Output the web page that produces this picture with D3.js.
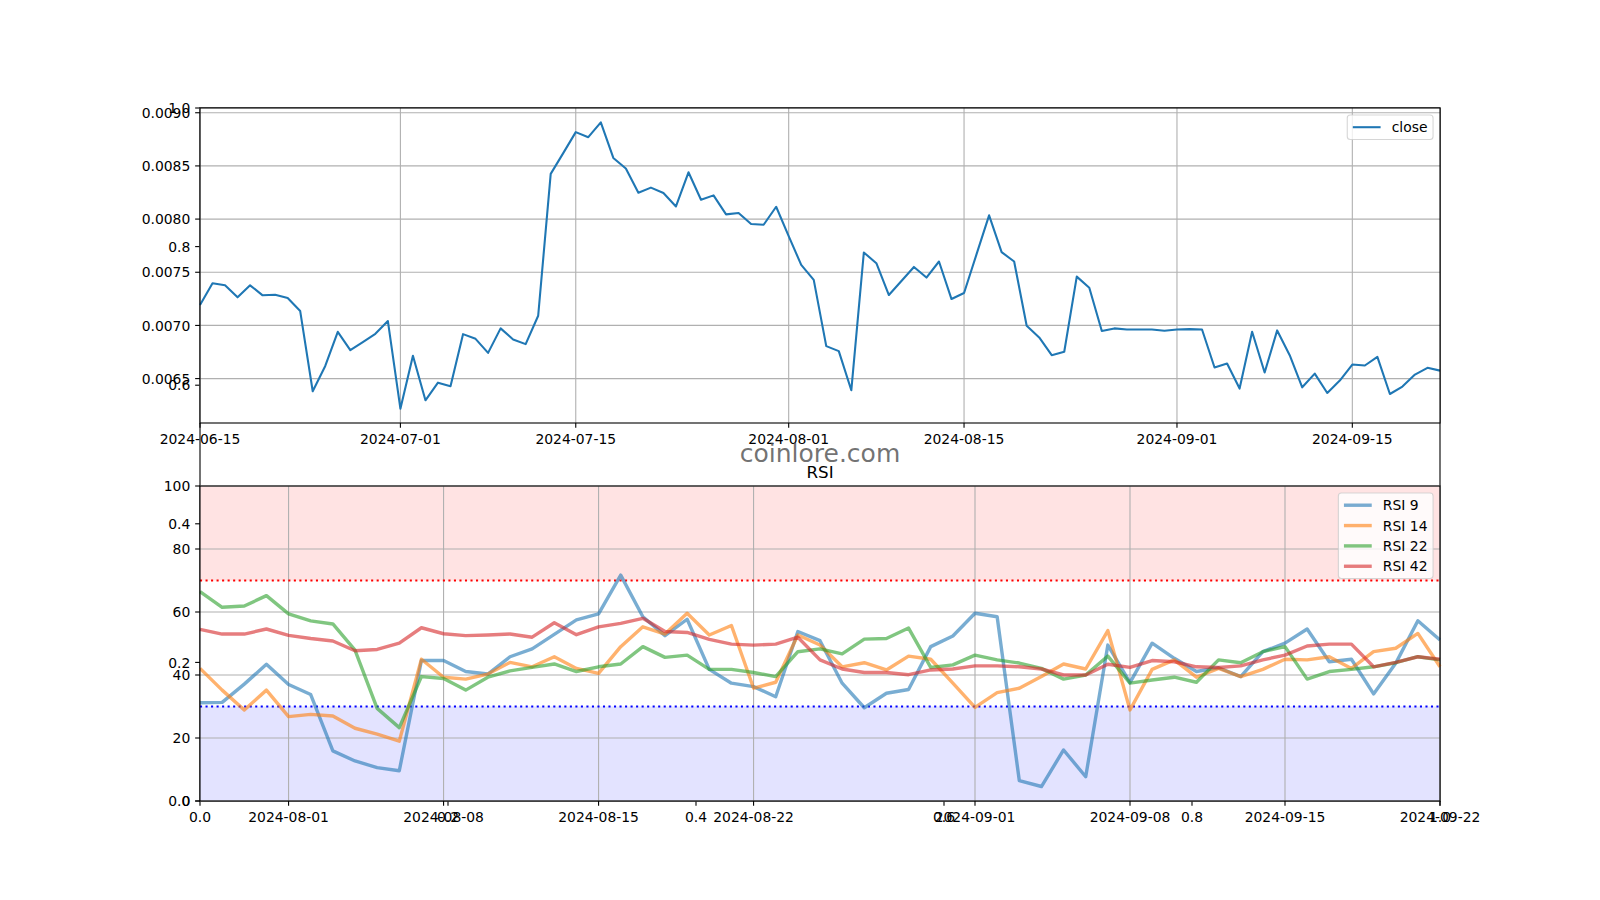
<!DOCTYPE html>
<html><head><meta charset="utf-8">
<script src="https://cdn.jsdelivr.net/npm/d3@7"></script>
<style>body{margin:0;background:#fff} svg{display:block;font-family:"DejaVu Sans",sans-serif}</style>
</head><body>
<svg id="c" width="1600" height="900"></svg>
<script>
// ---------- data ----------
const closeStart = "2024-06-15";
const closeValues = [
0.007192,0.007396,0.007377,0.007264,0.007377,0.007283,0.007289,0.007258,0.007135,0.006381,
0.006619,0.006940,0.006767,0.006843,0.006921,0.007041,0.006217,0.006714,0.006296,0.006462,
0.006428,0.006918,0.006874,0.006742,0.006972,0.006868,0.006824,0.007091,0.008425,0.008620,
0.008818,0.008770,0.008910,0.008575,0.008475,0.008248,0.008296,0.008245,0.008119,0.008440,
0.008182,0.008223,0.008044,0.008057,0.007953,0.007947,0.008116,0.007840,0.007569,0.007428,
0.006805,0.006758,0.006390,0.007686,0.007585,0.007286,0.007418,0.007550,0.007450,0.007601,
0.007248,0.007305,0.007670,0.008035,0.007689,0.007601,0.006997,0.006887,0.006720,0.006752,
0.007459,0.007355,0.006947,0.006972,0.006962,0.006962,0.006962,0.006950,0.006962,0.006965,
0.006962,0.006604,0.006642,0.006406,0.006940,0.006557,0.006953,0.006720,0.006418,0.006547,
0.006365,0.006481,0.006632,0.006623,0.006704,0.006355,0.006425,0.006538,0.006601,0.006575];

const rsiStart = "2024-07-28";
const rsi9 = [31.2,31.3,37.1,43.4,37.0,33.8,15.9,12.7,10.6,9.6,
44.6,44.6,41.1,40.3,45.8,48.3,52.9,57.5,59.4,71.7,
58.5,52.5,57.7,41.8,37.4,36.3,33.1,53.8,50.9,37.4,
29.6,34.2,35.4,49.0,52.4,59.6,58.5,6.5,4.6,16.2,
7.7,49.5,37.6,50.1,45.3,41.1,42.3,39.5,47.4,50.1,
54.6,44.2,45.0,34.0,43.7,57.2,51.1];
const rsi14 = [42.1,35.2,28.9,35.2,26.8,27.5,27.0,23.1,21.2,19.0,
45.0,39.3,38.7,40.3,44.0,42.6,45.8,42.1,40.5,49.0,
55.3,53.0,59.6,52.7,55.7,35.8,37.7,52.7,49.5,42.6,
43.9,41.6,46.0,45.0,37.4,29.7,34.4,35.8,39.5,43.5,
41.9,54.1,28.9,41.8,44.8,39.3,42.1,39.5,41.8,45.0,
44.8,45.8,42.1,47.4,48.5,53.2,42.6];
const rsi22 = [66.5,61.5,61.9,65.2,59.4,57.2,56.2,47.9,29.4,23.3,
39.5,38.9,35.2,39.3,41.3,42.4,43.5,41.1,42.6,43.5,
49.0,45.6,46.3,41.8,41.8,40.8,39.5,47.4,48.3,46.7,
51.4,51.6,54.9,42.4,43.2,46.3,44.8,43.8,42.1,38.7,
40.0,46.0,37.4,38.4,39.3,37.7,44.8,43.9,47.4,49.0,
38.7,41.1,41.8,42.6,43.9,45.8,44.8];
const rsi42 = [54.5,53.0,53.0,54.6,52.6,51.6,50.8,47.7,48.1,50.1,
55.0,53.1,52.5,52.7,53.0,52.0,56.6,52.8,55.3,56.4,
58.0,53.8,53.5,51.3,49.8,49.5,49.8,52.0,44.8,41.9,
40.8,40.8,40.1,41.6,41.9,42.9,42.9,42.6,41.9,40.0,
40.0,43.4,42.4,44.6,44.2,42.6,42.4,42.9,44.8,46.3,
49.2,49.8,49.8,42.6,44.0,45.8,45.0];
const rsiNames = ["RSI 9","RSI 14","RSI 22","RSI 42"];
const rsiColors = ["#1f77b4","#ff7f0e","#2ca02c","#d62728"];

const closeXTicks = ["2024-06-15","2024-07-01","2024-07-15","2024-08-01","2024-08-15","2024-09-01","2024-09-15"];
const rsiXTicks = ["2024-08-01","2024-08-08","2024-08-15","2024-08-22","2024-09-01","2024-09-08","2024-09-15","2024-09-22"];
const closeYTicks = [0.0065,0.0070,0.0075,0.0080,0.0085,0.0090];
const rsiYTicks = [0,20,40,60,80,100];
const strayTicks = [0,0.2,0.4,0.6,0.8,1.0];
const rsiOverbought = 70, rsiOversold = 30;
const closeEnd = "2024-09-22", rsiEnd = "2024-09-22";

// ---------- layout ----------
const svg = d3.select("#c");
const L = 200, R = 1440, T1 = 108, B1 = 423, T2 = 486, B2 = 801;
const FS = 13.9, TICK = 4.86, GRID = "#b0b0b0", LW = 1.1;
const parse = d3.utcParse("%Y-%m-%d");

function yAxisLabels(g, scale, ticks, fmt) {
  ticks.forEach(t => {
    const y = scale(t);
    g.append("line").attr("x1", L - TICK).attr("x2", L).attr("y1", y).attr("y2", y)
      .attr("stroke", "#000").attr("stroke-width", LW);
    g.append("text").attr("x", L - TICK - 4.86).attr("y", y).attr("dy", "0.37em")
      .attr("text-anchor", "end").attr("font-size", FS).attr("fill", "#000").text(fmt(t));
  });
}
function xAxisLabels(g, scale, ticks, yb, fmt) {
  ticks.forEach(t => {
    const x = scale(t);
    g.append("line").attr("x1", x).attr("x2", x).attr("y1", yb).attr("y2", yb + TICK)
      .attr("stroke", "#000").attr("stroke-width", LW);
    g.append("text").attr("x", x).attr("y", yb + 21).attr("text-anchor", "middle")
      .attr("font-size", FS).attr("fill", "#000").text(fmt(t));
  });
}
function legend(g, items, top) {
  const pad = 5.56, hl = 27.8, htp = 11.1, rowH = 13.4, sp = 6.95;
  const lg = g.append("g");
  const frame = lg.append("rect");
  let maxW = 0;
  const texts = items.map((it, k) => {
    const cy = top + pad + rowH / 2 + k * (rowH + sp);
    const t = lg.append("text").attr("y", cy).attr("dy", "0.37em").attr("font-size", FS).attr("fill", "#000").text(it.name);
    maxW = Math.max(maxW, t.node().getComputedTextLength());
    return {t, cy, it};
  });
  const w = 2 * pad + hl + htp + maxW;
  const h = 2 * pad + items.length * rowH + (items.length - 1) * sp;
  const right = R - 6.95, left = right - w;
  frame.attr("x", left).attr("y", top).attr("width", w).attr("height", h).attr("rx", 3)
    .attr("fill", "#fff").attr("fill-opacity", 0.8).attr("stroke", "#cccccc").attr("stroke-opacity", 0.8).attr("stroke-width", LW);
  texts.forEach(({t, cy, it}) => {
    t.attr("x", left + pad + hl + htp);
    lg.append("line").attr("x1", left + pad).attr("x2", left + pad + hl).attr("y1", cy).attr("y2", cy)
      .attr("stroke", it.color).attr("stroke-width", it.width).attr("stroke-opacity", it.opacity);
  });
}

// ---------- stray default axes (0..1) ----------
const sg = svg.append("g");
const sx = d3.scaleLinear().domain([0, 1]).range([L, R]);
const sy = d3.scaleLinear().domain([0, 1]).range([B2, T1]);
sg.append("rect").attr("x", L).attr("y", T1).attr("width", R - L).attr("height", B2 - T1)
  .attr("fill", "#fff").attr("stroke", "#000").attr("stroke-width", LW);
yAxisLabels(sg, sy, strayTicks, d3.format(".1f"));
xAxisLabels(sg, sx, strayTicks, B2, d3.format(".1f"));

// ---------- top panel: close ----------
const g1 = svg.append("g");
const cDates = closeValues.map((v, i) => d3.utcDay.offset(parse(closeStart), i));
const x1 = d3.scaleUtc().domain([parse(closeStart), parse(closeEnd)]).range([L, R]);
const [cmin, cmax] = d3.extent(closeValues);
const cr = cmax - cmin;
const y1 = d3.scaleLinear().domain([cmin - 0.05 * cr, cmax + 0.05 * cr]).range([B1, T1]);
g1.append("rect").attr("x", L).attr("y", T1).attr("width", R - L).attr("height", B1 - T1).attr("fill", "#fff");
closeXTicks.forEach(d => {
  const x = x1(parse(d));
  g1.append("line").attr("x1", x).attr("x2", x).attr("y1", T1).attr("y2", B1).attr("stroke", GRID).attr("stroke-width", LW);
});
closeYTicks.forEach(v => {
  const y = y1(v);
  g1.append("line").attr("x1", L).attr("x2", R).attr("y1", y).attr("y2", y).attr("stroke", GRID).attr("stroke-width", LW);
});
g1.append("path").datum(closeValues)
  .attr("d", d3.line().x((v, i) => x1(cDates[i])).y(v => y1(v)))
  .attr("fill", "none").attr("stroke", "#1f77b4").attr("stroke-width", 2.08).attr("stroke-linejoin", "round");
g1.append("rect").attr("x", L).attr("y", T1).attr("width", R - L).attr("height", B1 - T1)
  .attr("fill", "none").attr("stroke", "#000").attr("stroke-width", LW);
yAxisLabels(g1, y1, closeYTicks, d3.format(".4f"));
xAxisLabels(g1, x1, closeXTicks.map(parse), B1, d3.utcFormat("%Y-%m-%d"));
legend(g1, [{name: "close", color: "#1f77b4", width: 2.08, opacity: 1}], T1 + 6.95);

// ---------- bottom panel: RSI ----------
const g2 = svg.append("g");
const rDates = rsi9.map((v, i) => d3.utcDay.offset(parse(rsiStart), i));
const x2 = d3.scaleUtc().domain([parse(rsiStart), parse(rsiEnd)]).range([L, R]);
const y2 = d3.scaleLinear().domain([0, 100]).range([B2, T2]);
g2.append("rect").attr("x", L).attr("y", T2).attr("width", R - L).attr("height", B2 - T2).attr("fill", "#fff");
g2.append("rect").attr("x", L).attr("y", y2(100)).attr("width", R - L).attr("height", y2(rsiOverbought) - y2(100))
  .attr("fill", "#ff0000").attr("fill-opacity", 0.11);
g2.append("rect").attr("x", L).attr("y", y2(rsiOversold)).attr("width", R - L).attr("height", y2(0) - y2(rsiOversold))
  .attr("fill", "#0000ff").attr("fill-opacity", 0.11);
rsiXTicks.forEach(d => {
  const x = x2(parse(d));
  g2.append("line").attr("x1", x).attr("x2", x).attr("y1", T2).attr("y2", B2).attr("stroke", GRID).attr("stroke-width", LW);
});
rsiYTicks.forEach(v => {
  const y = y2(v);
  g2.append("line").attr("x1", L).attr("x2", R).attr("y1", y).attr("y2", y).attr("stroke", GRID).attr("stroke-width", LW);
});
g2.append("line").attr("x1", L).attr("x2", R).attr("y1", y2(rsiOverbought)).attr("y2", y2(rsiOverbought))
  .attr("stroke", "#ff0000").attr("stroke-width", 2.08).attr("stroke-dasharray", "2.08 3.44");
g2.append("line").attr("x1", L).attr("x2", R).attr("y1", y2(rsiOversold)).attr("y2", y2(rsiOversold))
  .attr("stroke", "#0000ff").attr("stroke-width", 2.08).attr("stroke-dasharray", "2.08 3.44");
[rsi9, rsi14, rsi22, rsi42].forEach((s, k) => {
  g2.append("path").datum(s)
    .attr("d", d3.line().x((v, i) => x2(rDates[i])).y(v => y2(v)))
    .attr("fill", "none").attr("stroke", rsiColors[k]).attr("stroke-width", 3.4)
    .attr("stroke-opacity", 0.6).attr("stroke-linejoin", "round");
});
g2.append("rect").attr("x", L).attr("y", T2).attr("width", R - L).attr("height", B2 - T2)
  .attr("fill", "none").attr("stroke", "#000").attr("stroke-width", LW);
yAxisLabels(g2, y2, rsiYTicks, d3.format("d"));
xAxisLabels(g2, x2, rsiXTicks.map(parse), B2, d3.utcFormat("%Y-%m-%d"));
legend(g2, rsiNames.map((n, k) => ({name: n, color: rsiColors[k], width: 3.4, opacity: 0.6})), T2 + 6.95);
svg.append("text").attr("x", (L + R) / 2).attr("y", T2 - 8.3).attr("text-anchor", "middle")
  .attr("font-size", 16.7).attr("fill", "#000").text("RSI");

// ---------- watermark ----------
svg.append("text").attr("x", (L + R) / 2).attr("y", 462).attr("text-anchor", "middle")
  .attr("font-size", 25).attr("fill", "#5a5a5a").attr("fill-opacity", 0.85).text("coinlore.com");
</script>
</body></html>
